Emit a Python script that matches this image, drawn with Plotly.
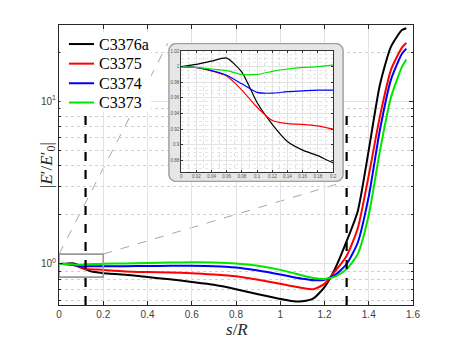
import numpy as np
import plotly.graph_objects as go

# arc length s/R where the curves were sampled
s_vals = [0, 0.02, 0.04, 0.06, 0.08, 0.10, 0.12, 0.14, 0.16, 0.18, 0.20,
          0.30, 0.40, 0.50, 0.60, 0.70, 0.80, 0.90, 1.00, 1.05, 1.10, 1.15,
          1.20, 1.25, 1.30, 1.35, 1.40, 1.45, 1.50, 1.55, 1.57]

c3376a = [1.000, 1.003, 1.007, 1.011, 0.993, 0.954, 0.926, 0.904, 0.893, 0.886, 0.877,
          0.860, 0.832, 0.805, 0.776, 0.745, 0.700, 0.652, 0.610, 0.593, 0.590, 0.615,
          0.720, 0.950, 1.38, 2.10, 5.00, 12.5, 21.5, 27.3, 28.0]
c3375 = [1.000, 0.9987, 0.9945, 0.988, 0.970, 0.948, 0.931, 0.927, 0.926, 0.924, 0.920,
         0.900, 0.892, 0.886, 0.878, 0.862, 0.840, 0.800, 0.757, 0.733, 0.712, 0.700,
         0.755, 0.910, 1.12, 1.65, 3.50, 8.00, 15.5, 21.3, 22.7]
c3374 = [1.000, 0.999, 0.995, 0.989, 0.978, 0.967, 0.966, 0.968, 0.969, 0.970, 0.970,
         0.970, 0.972, 0.974, 0.975, 0.970, 0.952, 0.912, 0.862, 0.835, 0.812, 0.795,
         0.800, 0.860, 1.00, 1.35, 2.60, 6.60, 13.5, 19.5, 21.0]
c3373 = [1.000, 0.999, 0.997, 0.995, 0.990, 0.990, 0.994, 0.997, 0.999, 1.000, 1.002,
         1.008, 1.015, 1.020, 1.024, 1.022, 1.008, 0.975, 0.920, 0.885, 0.850, 0.820,
         0.810, 0.840, 0.930, 1.15, 2.00, 4.90, 10.5, 16.2, 18.0]

names = ["C3376a", "C3375", "C3374", "C3373"]
colors = ["#000000", "#ff0000", "#0000ff", "#00e600"]
series = [c3376a, c3375, c3374, c3373]

marker_s = [0.12, 1.30]          # dashed vertical markers
marker_top = 8.5
zoom_x = [0, 0.2]                # zoomed region shown in the inset
zoom_y = [0.83, 1.15]

x_range = [0, 1.6]
y_lo, y_hi = np.log10(0.56), np.log10(29.3)

# paper positions of the inset box and inset axes
box_x, box_y = [0.308, 0.805], [0.439, 0.936]
ins_x, ins_y = [0.345, 0.774], [0.475, 0.907]

# hand-made legend (plotly's rows are too tall for this size)
leg_x0, leg_x1, leg_txt = 0.028, 0.099, 0.107
leg_y = [0.932, 0.862, 0.792, 0.723]


def px(s):
    return (s - x_range[0]) / (x_range[1] - x_range[0])


def py(v):
    return (np.log10(v) - y_lo) / (y_hi - y_lo)


fig = go.Figure()

for name, col, vals in zip(names, colors, series):
    fig.add_trace(go.Scatter(x=s_vals, y=vals, name=name, mode="lines",
                             line=dict(color=col, width=2, shape="spline", smoothing=0.6)))

for s in marker_s:
    fig.add_trace(go.Scatter(x=[s, s], y=[10 ** y_lo, marker_top], mode="lines",
                             line=dict(color="black", width=2.2, dash="dash")))

fig.add_trace(go.Scatter(
    x=[zoom_x[0], zoom_x[1], zoom_x[1], zoom_x[0], zoom_x[0]],
    y=[zoom_y[0], zoom_y[0], zoom_y[1], zoom_y[1], zoom_y[0]],
    mode="lines", line=dict(color="#9a9a9a", width=1.6)))

# rounded grey panel behind the inset (own subplot so it sits above the main plot)
W, H, r = 176.0, 139.0, 7.0
rx, ry = r / W, r / H
e = 0.005
t = np.linspace(0, np.pi / 2, 8)
corners = [(1 - e - rx, 1 - e - ry, 0), (e + rx, 1 - e - ry, np.pi / 2),
           (e + rx, e + ry, np.pi), (1 - e - rx, e + ry, 1.5 * np.pi)]
bx, by = [], []
for cx, cy, a0 in corners:
    bx += list(cx + rx * np.cos(a0 + t))
    by += list(cy + ry * np.sin(a0 + t))
bx.append(bx[0])
by.append(by[0])
fig.add_trace(go.Scatter(x=bx, y=by, xaxis="x2", yaxis="y2", mode="lines",
                         fill="toself", fillcolor="#e6e6e6",
                         line=dict(color="#a0a0a0", width=1.5)))

for name, col, vals in zip(names, colors, series):
    fig.add_trace(go.Scatter(x=s_vals, y=vals, xaxis="x3", yaxis="y3", mode="lines",
                             line=dict(color=col, width=1.2, shape="spline", smoothing=0.6)))

# dashed connectors from the zoom rectangle to the inset panel
fig.add_shape(type="line", xref="paper", yref="paper", layer="below",
              x0=px(zoom_x[0]), y0=py(zoom_y[1]), x1=box_x[0], y1=box_y[1],
              line=dict(color="#a6a6a6", width=1, dash="dash"))
fig.add_shape(type="line", xref="paper", yref="paper", layer="below",
              x0=px(zoom_x[1]), y0=py(zoom_y[1]), x1=box_x[1], y1=box_y[0],
              line=dict(color="#a6a6a6", width=1, dash="dash"))

# legend
fig.add_shape(type="rect", xref="paper", yref="paper", layer="above",
              x0=0.004, x1=0.26, y0=0.69, y1=0.975,
              fillcolor="white", line=dict(width=0))
annotations = []
for name, col, yy in zip(names, colors, leg_y):
    fig.add_shape(type="line", xref="paper", yref="paper", layer="above",
                  x0=leg_x0, x1=leg_x1, y0=yy, y1=yy, line=dict(color=col, width=2))
    annotations.append(dict(text=name, xref="paper", yref="paper", x=leg_txt, y=yy,
                            xanchor="left", yanchor="middle", showarrow=False,
                            font=dict(family="Liberation Serif", size=16, color="black")))

annotations += [
    dict(text="|<i>E</i>′/<i>E</i>′<sub>0</sub>|", xref="paper", yref="paper",
         x=-0.068, y=0.5, textangle=-90, showarrow=False,
         font=dict(family="Liberation Serif", size=17, color="#262626")),
    dict(text="<i>s</i>/<i>R</i>", xref="paper", yref="paper",
         x=0.503, y=-0.089, yanchor="middle", showarrow=False,
         font=dict(family="Liberation Serif", size=17, color="#262626")),
]

axis_font = dict(family="Liberation Sans", size=10, color="#404040")
inset_font = dict(family="Liberation Sans", size=4.5, color="#555")
minor_y = [0.6, 0.7, 0.8, 0.9, 2, 3, 4, 5, 6, 7, 8, 9, 20]

fig.update_layout(
    width=449, height=335, autosize=False,
    margin=dict(l=51, r=44, t=17, b=38),
    paper_bgcolor="white", plot_bgcolor="white",
    showlegend=False,
    xaxis=dict(range=x_range, dtick=0.2, tickfont=axis_font,
               showline=True, linecolor="#262626", linewidth=1, mirror="ticks",
               ticks="inside", ticklen=4, tickcolor="#262626",
               showgrid=True, gridcolor="#e3e3e3", zeroline=False),
    yaxis=dict(type="log", range=[y_lo, y_hi], tickvals=[1, 10],
               ticktext=["10<sup>0</sup>", "10<sup>1</sup>"], tickfont=axis_font,
               showline=True, linecolor="#262626", linewidth=1, mirror="ticks",
               ticks="inside", ticklen=4, tickcolor="#262626",
               showgrid=True, gridcolor="#e3e3e3", zeroline=False,
               minor=dict(tickvals=minor_y, ticks="inside", ticklen=2,
                          tickcolor="#262626", showgrid=True,
                          gridcolor="#d0d0d0", griddash="dot")),
    xaxis2=dict(domain=box_x, range=[0, 1], visible=False, fixedrange=True),
    yaxis2=dict(domain=box_y, range=[0, 1], visible=False, fixedrange=True),
    xaxis3=dict(domain=ins_x, range=zoom_x, dtick=0.02, anchor="y3", tickfont=inset_font,
                showline=True, linecolor="#333", linewidth=0.8, mirror="ticks",
                ticks="inside", ticklen=2, tickcolor="#333",
                showgrid=True, gridcolor="#e3e3e3", zeroline=False,
                minor=dict(dtick=0.01, showgrid=True, gridcolor="#e0e0e0", griddash="dot")),
    yaxis3=dict(domain=ins_y, range=[0.865, 1.02], dtick=0.02, anchor="x3", tickfont=inset_font,
                showline=True, linecolor="#333", linewidth=0.8, mirror="ticks",
                ticks="inside", ticklen=2, tickcolor="#333",
                showgrid=True, gridcolor="#e3e3e3", zeroline=False,
                minor=dict(dtick=0.005, showgrid=True, gridcolor="#e6e6e6", griddash="dot")),
    annotations=annotations,
)

fig.write_html("out.html")
